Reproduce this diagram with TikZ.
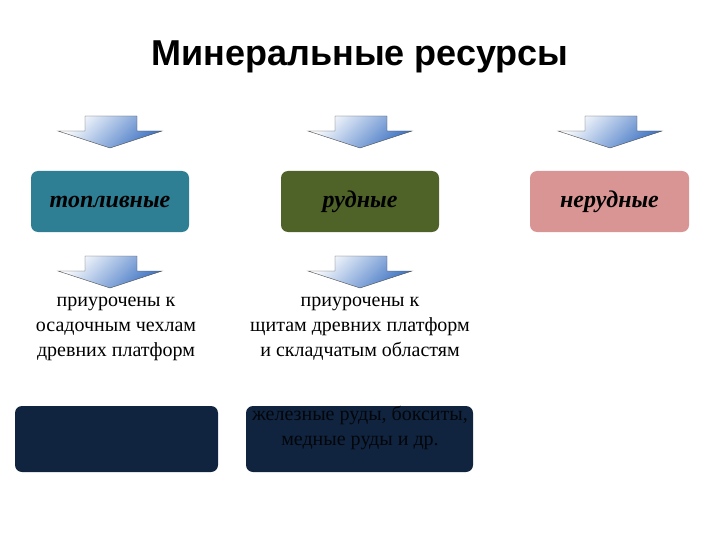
\documentclass[tikz,border=0pt]{standalone}
\usepackage{fontspec}
\setmainfont{Liberation Serif}
\newfontfamily\titlefont{Liberation Sans}
\definecolor{teal1}{HTML}{2E7F94}
\definecolor{olive1}{HTML}{4F6228}
\definecolor{rose1}{HTML}{D99594}
\definecolor{navy1}{HTML}{10243F}
\definecolor{arrowblue}{HTML}{3F74C4}
\tikzset{
  catbox/.style={rounded corners=7pt, minimum width=158pt, minimum height=61pt, inner sep=0pt,
    font=\fontsize{24}{28}\selectfont\bfseries\itshape, text=black},
  darkbox/.style={rounded corners=7pt, fill=navy1, inner sep=0pt},
  note/.style={align=center, font=\fontsize{20}{25}\selectfont, text=black},
  downarrow/.style={draw=black!70, line width=0.4pt, left color=white, right color=arrowblue, shading angle=45}
}
\newcommand{\blockarrow}[3]{%
  \path[downarrow] (#2-25,#3) -- (#2+27,#3) -- (#2+27,#3+15) -- (#2+52,#3+15) -- (#2,#3+32) -- (#2-52,#3+15) -- (#2-25,#3+15) -- cycle;
  \coordinate (#1) at (#2,#3+32);}
\begin{document}
\begin{tikzpicture}[x=1pt,y=-1pt]
\useasboundingbox (0,0) rectangle (720,540);
\node[font=\titlefont\fontsize{36}{40}\selectfont\bfseries] (title) at (360,57) {Минеральные ресурсы};

\blockarrow{a1}{110}{116}
\blockarrow{a2}{360}{116}
\blockarrow{a3}{610}{116}

\node[catbox, fill=teal1] (fuel) at (110,201.5) {топливные};
\node[catbox, fill=olive1] (ore) at (360,201.5) {рудные};
\node[catbox, fill=rose1, minimum width=159pt] (nonore) at (609.5,201.5) {нерудные};

\blockarrow{a4}{110}{256}
\blockarrow{a5}{360}{256}

\node[note] (t1) at (116,329) {приурочены к\\осадочным чехлам\\древних платформ};
\node[note] (t2) at (360,329) {приурочены к\\щитам древних платформ\\и складчатым областям};

\node[darkbox, minimum width=203pt, minimum height=66pt] (d1) at (116.5,439) {};
\node[darkbox, minimum width=227pt, minimum height=66pt] (d2) at (359.5,439) {};
\node[note, text=black!85!navy1] (d2t) at (360,428) {железные руды, бокситы,\\медные руды и др.};
\end{tikzpicture}
\end{document}
